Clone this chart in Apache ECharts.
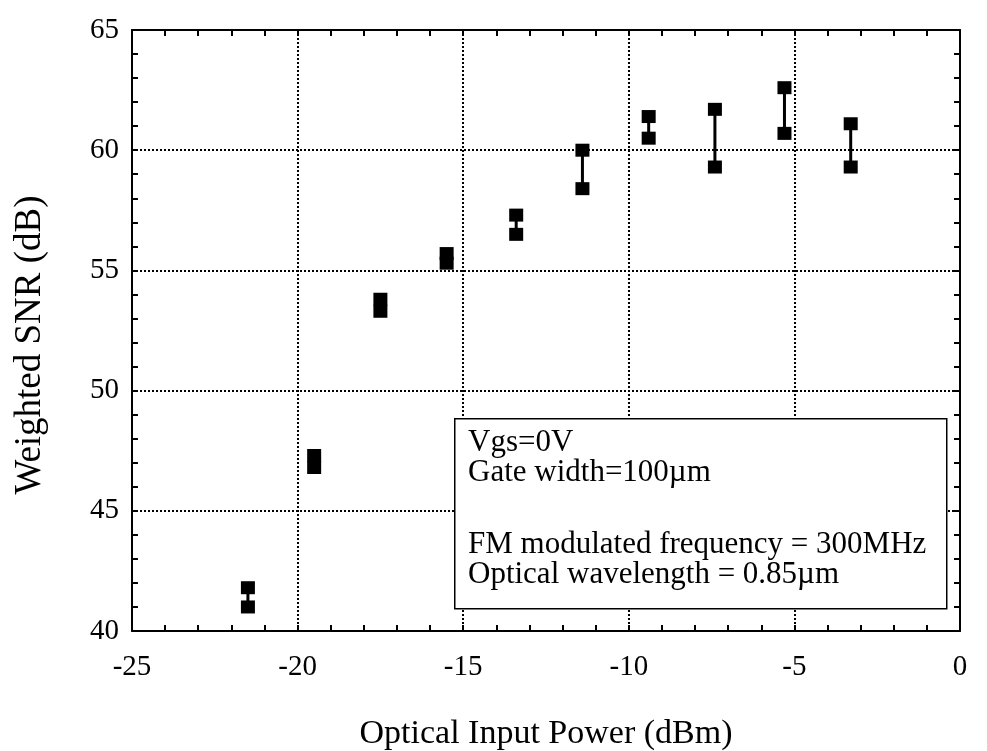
<!DOCTYPE html>
<html>
<head>
<meta charset="utf-8">
<style>
  html, body { margin: 0; padding: 0; background: #fff; }
  #myChart { width: 987px; height: 751px; }
</style>
<script src="https://cdn.jsdelivr.net/npm/echarts@6/dist/echarts.min.js"></script>
</head>
<body>
<div id="myChart"></div>
<script>
// 光输入功率 (dBm)
const powerDbm = [-21.5, -19.5, -17.5, -15.5, -13.4, -11.4, -9.4, -7.4, -5.3, -3.3]
// 每个功率点的上下两个测量值
const snrHigh = [41.8, 47.3, 53.8, 55.7, 57.3, 60.0, 61.4, 61.7, 62.6, 61.1]
const snrLow = [41.0, 46.8, 53.3, 55.3, 56.5, 58.4, 60.5, 59.3, 60.7, 59.3]
const xTicks = [-25, -20, -15, -10, -5, 0]
const yTicks = [40, 45, 50, 55, 60, 65]
const noteTop = ['Vgs=0V', 'Gate width=100\u00b5m']
const noteBottom = ['FM modulated frequency = 300MHz', 'Optical wavelength = 0.85\u00b5m']

const font = '"Liberation Serif", "DejaVu Serif", serif'

const pairData = powerDbm.map((x, i) => [x, snrLow[i], snrHigh[i]])
const pointData = []
powerDbm.forEach((x, i) => {
  pointData.push([x, snrHigh[i]])
  pointData.push([x, snrLow[i]])
})

const frameAxis = (pos, min, max) => ({
  type: 'value',
  position: pos,
  min: min,
  max: max,
  interval: 5,
  axisLine: { show: true, onZero: false, lineStyle: { color: '#000', width: 2 } },
  axisTick: { show: true, inside: true, length: 6, lineStyle: { color: '#000', width: 2 } },
  minorTick: { show: true, splitNumber: 5, length: 6, lineStyle: { color: '#000', width: 2 } },
  splitLine: { show: false },
  axisLabel: { show: false }
})

let myChart = echarts.init(document.getElementById('myChart'))
myChart.setOption({
  backgroundColor: '#fff',
  animation: false,
  grid: { left: 132, right: 27, top: 30, bottom: 120, containLabel: false, outerBoundsMode: 'none' },
  xAxis: [
    {
      type: 'value',
      min: xTicks[0],
      max: xTicks[xTicks.length - 1],
      interval: 5,
      name: 'Optical Input Power (dBm)',
      nameLocation: 'middle',
      nameGap: 86,
      nameTextStyle: { fontFamily: font, fontSize: 34, color: '#000' },
      axisLine: { show: true, onZero: false, lineStyle: { color: '#000', width: 2 } },
      axisTick: { show: true, inside: true, length: 6, lineStyle: { color: '#000', width: 2 } },
      minorTick: { show: true, splitNumber: 5, length: 6, lineStyle: { color: '#000', width: 2 } },
      splitLine: { show: true, lineStyle: { color: '#000', width: 2, type: 'dotted' } },
      axisLabel: { fontFamily: font, fontSize: 29, color: '#000', margin: 22 }
    },
    frameAxis('top', xTicks[0], xTicks[xTicks.length - 1])
  ],
  yAxis: [
    {
      type: 'value',
      min: yTicks[0],
      max: yTicks[yTicks.length - 1],
      interval: 5,
      axisLine: { show: true, onZero: false, lineStyle: { color: '#000', width: 2 } },
      axisTick: { show: true, inside: true, length: 6, lineStyle: { color: '#000', width: 2 } },
      minorTick: { show: true, splitNumber: 5, length: 6, lineStyle: { color: '#000', width: 2 } },
      splitLine: { show: true, lineStyle: { color: '#000', width: 2, type: 'dotted' } },
      axisLabel: { fontFamily: font, fontSize: 29, color: '#000', margin: 13 }
    },
    frameAxis('right', yTicks[0], yTicks[yTicks.length - 1])
  ],
  series: [
    {
      // 上下两点之间的竖线
      type: 'custom',
      data: pairData,
      renderItem: function (params, api) {
        const lo = api.coord([api.value(0), api.value(1)])
        const hi = api.coord([api.value(0), api.value(2)])
        return {
          type: 'line',
          shape: { x1: lo[0], y1: lo[1], x2: hi[0], y2: hi[1] },
          style: { stroke: '#000', lineWidth: 3 }
        }
      },
      z: 3
    },
    {
      type: 'scatter',
      data: pointData,
      symbol: 'rect',
      symbolSize: [14, 13],
      itemStyle: { color: '#000', opacity: 1 },
      z: 4
    }
  ],
  graphic: [
    {
      // y轴标题
      type: 'text',
      x: 30,
      y: 345,
      rotation: Math.PI / 2,
      style: {
        text: 'Weighted SNR (dB)',
        font: '37px ' + font,
        fill: '#000',
        align: 'center',
        verticalAlign: 'middle'
      }
    },
    {
      type: 'rect',
      left: 454,
      top: 418,
      shape: { width: 492, height: 190 },
      style: { fill: '#fff', stroke: '#000', lineWidth: 1.5 },
      z: 10
    },
    {
      type: 'text',
      left: 468,
      top: 427,
      style: { text: noteTop.join('\n'), font: '31px ' + font, lineHeight: 30, fill: '#000' },
      z: 11
    },
    {
      type: 'text',
      left: 468,
      top: 529,
      style: { text: noteBottom.join('\n'), font: '31px ' + font, lineHeight: 30, fill: '#000' },
      z: 11
    }
  ]
})
</script>
</body>
</html>
